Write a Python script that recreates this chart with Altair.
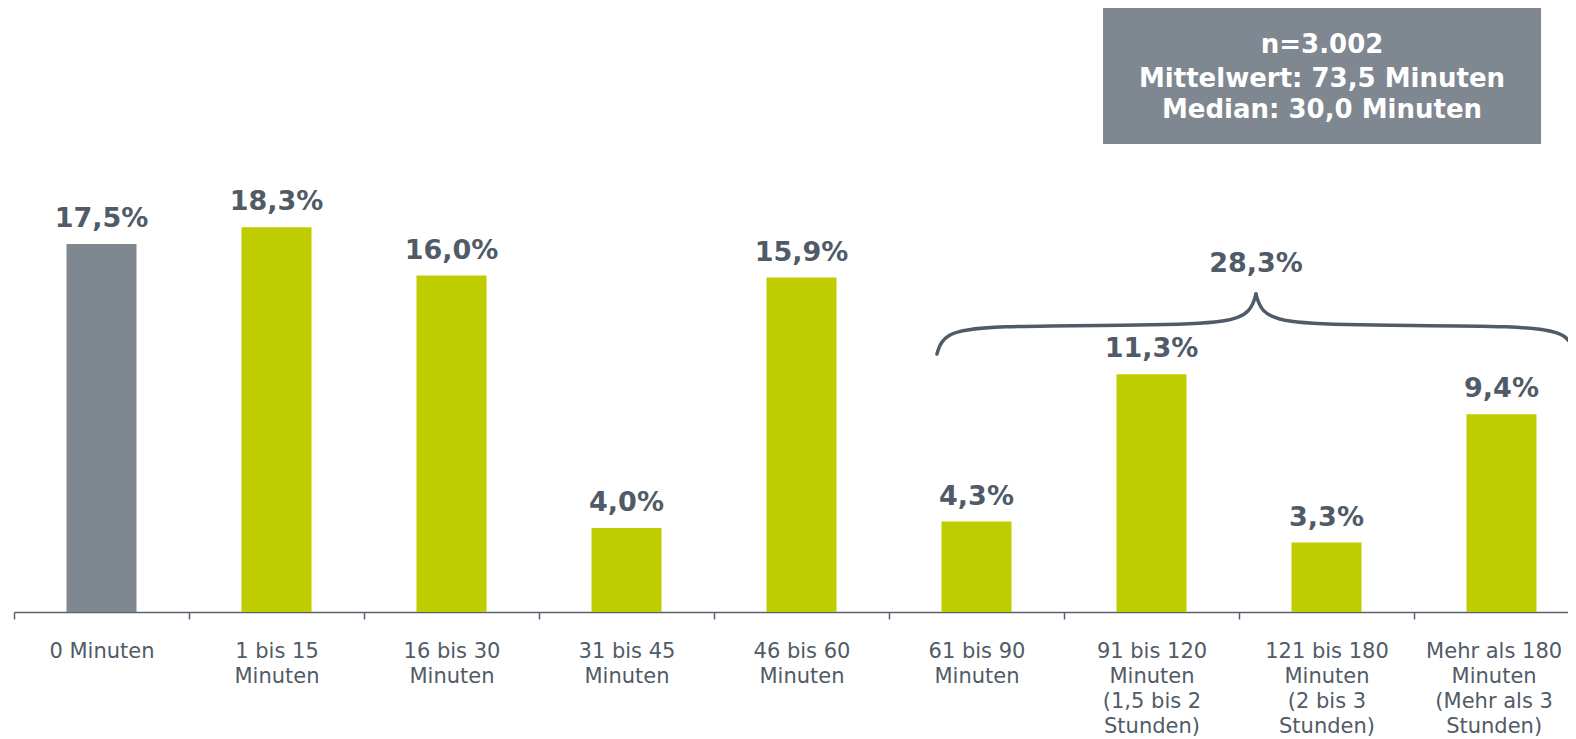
import json
import altair as alt
import pandas as pd

# ---- data ----
categories = [
    "0 Minuten",
    "1 bis 15|Minuten",
    "16 bis 30|Minuten",
    "31 bis 45|Minuten",
    "46 bis 60|Minuten",
    "61 bis 90|Minuten",
    "91 bis 120|Minuten|(1,5 bis 2|Stunden)",
    "121 bis 180|Minuten|(2 bis 3|Stunden)",
    "Mehr als 180|Minuten|(Mehr als 3|Stunden)",
]
values = [17.5, 18.3, 16.0, 4.0, 15.9, 4.3, 11.3, 3.3, 9.4]
groups = ["keine", "mit", "mit", "mit", "mit", "mit", "mit", "mit", "mit"]
value_labels = ["17,5%", "18,3%", "16,0%", "4,0%", "15,9%", "4,3%", "11,3%", "3,3%", "9,4%"]

box_lines = ["n=3.002", "Mittelwert: 73,5 Minuten", "Median: 30,0 Minuten"]
box_line_y = [26.58, 24.96, 23.49]
box_x, box_x2 = 6.223, 8.726
box_y, box_y2 = 22.25, 28.72

brace_label = "28,3%"
brace_label_x = 7.097
brace_label_y = 16.16
brace_x = [5.274, 5.31, 5.55, 6.5, 6.95, 7.07, 7.097,
           7.097, 7.124, 7.244, 7.694, 8.644, 8.884, 8.92]
brace_y = [12.27, 13.25, 13.62, 13.62, 13.75, 14.3, 15.12,
           15.12, 14.3, 13.75, 13.62, 13.62, 13.25, 12.27]
brace_part = ["l"] * 7 + ["r"] * 7
brace_order = list(range(14))

GRAY = "#7f8790"
GREEN = "#bfcc00"
TEXT = "#505b67"
AXIS = "#58626d"
FONT = "DejaVu Sans"

W = 1554          # plot width in px (page is 1576 wide incl. 8px margins)
STEP = 175        # px per category
H = 604

n = len(categories)
bars_df = pd.DataFrame({"idx": list(range(n)), "cat": categories, "val": values,
                        "grp": groups, "lab": value_labels})
box_df = pd.DataFrame({"x": [box_x], "x2": [box_x2], "y": [box_y], "y2": [box_y2]})
box_text_df = pd.DataFrame({"t": box_lines, "y": box_line_y, "x": [(box_x + box_x2) / 2] * 3})
brace_df = pd.DataFrame({"x": brace_x, "y": brace_y, "part": brace_part, "o": brace_order})
brace_lab_df = pd.DataFrame({"x": [brace_label_x], "y": [brace_label_y], "t": [brace_label]})

yscale = alt.Scale(domain=[0, 28.72], nice=False, zero=True)
xdom = [0, W / STEP]


def xs():
    return alt.Scale(domain=xdom, nice=False, zero=False)


yq = alt.Y("val:Q", scale=yscale, axis=None)

cat_expr = "split(" + json.dumps(categories) + "[floor(datum.value)], '|')"

# label anchor positions (category centres); the last one nudged left so it stays on the page
label_pos = [i + 0.5 for i in range(n)]
label_pos[-1] -= 0.045

bars = alt.Chart(bars_df).transform_calculate(
    x0="datum.idx + 0.3", x1="datum.idx + 0.7"
).mark_rect().encode(
    x=alt.X("x0:Q", scale=xs(), axis=alt.Axis(
        title=None, orient="bottom", values=list(range(n + 1)), labels=False, tickSize=7,
        tickColor=AXIS, tickWidth=1.5, domainColor=AXIS, domainWidth=1.5, grid=False,
    )),
    x2="x1:Q",
    y=yq,
    y2=alt.datum(0),
    color=alt.Color("grp:N", scale=alt.Scale(domain=["keine", "mit"], range=[GRAY, GREEN]), legend=None),
)

labels = alt.Chart(bars_df).transform_calculate(
    xc="datum.idx + 0.5"
).mark_text(
    font=FONT, fontSize=27, fontWeight="bold", color=TEXT, baseline="alphabetic", dy=-17
).encode(
    x=alt.X("xc:Q", scale=xs(), axis=alt.Axis(
        title=None, orient="bottom", values=label_pos, labelExpr=cat_expr,
        labelAngle=0, labelFont=FONT, labelFontSize=21, labelColor=TEXT,
        labelLineHeight=25, labelBaseline="top", labelPadding=28, labelLimit=300,
        labelFlush=False, labelOverlap=False, labelBound=False,
        ticks=False, domain=False, grid=False,
    )),
    y=yq,
    text="lab:N",
)

box = alt.Chart(box_df).mark_rect(color=GRAY).encode(
    x=alt.X("x:Q", scale=xs(), axis=None),
    x2="x2:Q",
    y=alt.Y("y:Q", scale=yscale, axis=None),
    y2="y2:Q",
)
box_text = alt.Chart(box_text_df).mark_text(
    font=FONT, fontSize=26, fontWeight="bold", color="white", baseline="alphabetic"
).encode(
    x=alt.X("x:Q", scale=xs(), axis=None),
    y=alt.Y("y:Q", scale=yscale, axis=None),
    text="t:N",
)
brace = alt.Chart(brace_df).mark_line(
    color=TEXT, strokeWidth=3.5, interpolate="basis", strokeCap="round"
).encode(
    x=alt.X("x:Q", scale=xs(), axis=None),
    y=alt.Y("y:Q", scale=yscale, axis=None),
    detail="part:N",
    order="o:Q",
)
brace_lab = alt.Chart(brace_lab_df).mark_text(
    font=FONT, fontSize=27, fontWeight="bold", color=TEXT, baseline="alphabetic"
).encode(
    x=alt.X("x:Q", scale=xs(), axis=None),
    y=alt.Y("y:Q", scale=yscale, axis=None),
    text="t:N",
)

chart = (
    alt.layer(bars, labels, box, box_text, brace, brace_lab)
    .resolve_scale(x="independent")
    .properties(
        width=W,
        height=H,
        autosize=alt.AutoSizeParams(type="none"),
        padding={"left": 6, "top": 0, "right": 0, "bottom": 127},
    )
    .configure_view(stroke=None)
)

chart.save("out.html", embed_options={"renderer": "svg", "actions": False})
